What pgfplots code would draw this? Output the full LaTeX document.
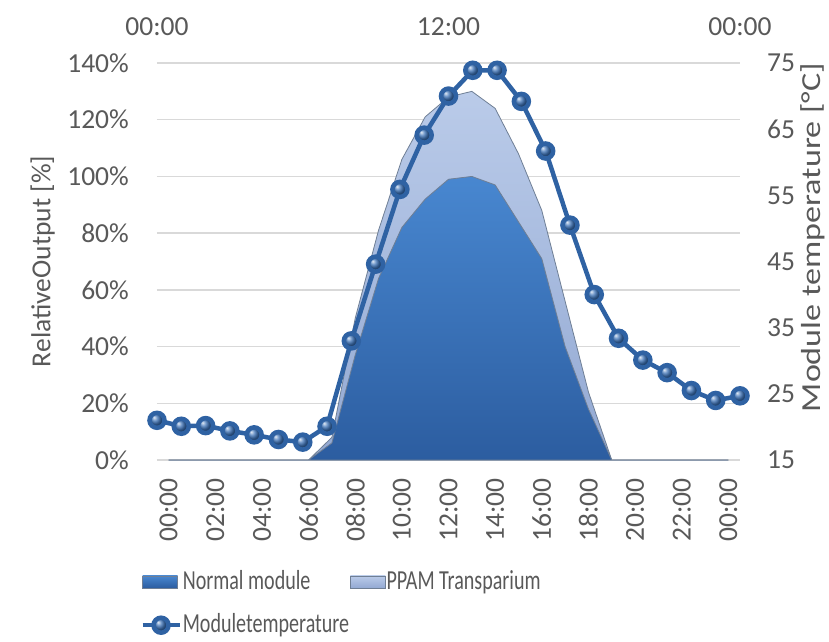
\documentclass[border=0pt]{standalone}
\usepackage{pgfplots}
\usepackage{pgfplotstable}
\pgfplotsset{compat=1.18}
\usepackage{fontspec}
\setmainfont{Carlito}
\definecolor{txt}{HTML}{595959}
\definecolor{gridc}{HTML}{D9D9D9}
\definecolor{nmtop}{HTML}{4887D0}
\definecolor{nmbot}{HTML}{2C5DA0}
\definecolor{pptop}{HTML}{BACBE9}
\definecolor{ppbot}{HTML}{93A9D3}
\definecolor{tline}{HTML}{2F62A3}
\definecolor{tball}{HTML}{3A70B5}
\definecolor{edge}{HTML}{6F7F95}

\pgfplotstableread{
h normal ppam
0 0 0
1 0 0
2 0 0
3 0 0
4 0 0
5 0 0
6 0 0
7 6 8
8 37 50
9 64 81
10 82 106
11 92 121
12 99 128
13 100 130
14 97 124
15 84 108
16 71 88
17 40 56
18 18 24
19 0 0
20 0 0
21 0 0
22 0 0
23 0 0
24 0 0
}\areadata

\pgfplotstableread{
h temp
0 21.0
1 20.1
2 20.2
3 19.4
4 18.8
5 18.1
6 17.7
7 20.1
8 33.0
9 44.6
10 55.9
11 64.1
12 70.0
13 73.9
14 73.9
15 69.2
16 61.7
17 50.5
18 40.0
19 33.4
20 30.1
21 28.2
22 25.5
23 24.0
24 24.7
}\tempdata

\pgfplotsset{
  tleg/.style={legend image code/.code={\draw[##1,mark repeat=2,mark phase=2] plot coordinates {(0bp,0bp) (18.5bp,0bp) (37bp,0bp)};}},
  common/.style={scale only axis, width=583bp, height=397bp,
    axis line style={draw=none}, major tick length=0pt,
    tick label style={text=txt, inner sep=0pt},
    label style={text=txt},
    /pgf/number format/assume math mode=true},
}

\begin{document}
\fontsize{27.5bp}{33bp}\selectfont
\begin{tikzpicture}
\begin{axis}[common,
  xmin=-0.5, xmax=24.5, ymin=0, ymax=140,
  xtick={0,2,...,24},
  xticklabels={00:00,02:00,04:00,06:00,08:00,10:00,12:00,14:00,16:00,18:00,20:00,22:00,00:00},
  xticklabel style={yshift=-18bp, rotate=90, anchor=east},
  ytick={0,20,...,140},
  yticklabel={\pgfmathprintnumber{\tick}\%},
  yticklabel style={anchor=east, xshift=-28bp},
  ymajorgrids, grid style={gridc, line width=1.4bp},
  ylabel={RelativeOutput [\%]},
  ylabel style={at={(axis description cs:-0.196,0.5)}, anchor=center},
]
\addplot[draw=edge, line width=0.8bp, top color=pptop, bottom color=ppbot] table[x=h,y=ppam]{\areadata} \closedcycle;
\addplot[draw=edge, line width=0.8bp, top color=nmtop, bottom color=nmbot] table[x=h,y=normal]{\areadata} \closedcycle;
\end{axis}
\begin{axis}[common,
  xmin=0, xmax=24, ymin=15, ymax=75,
  axis x line*=top, axis y line*=right,
  xtick={0,12,24}, xticklabels={00:00,12:00,00:00},
  xticklabel style={anchor=base, yshift=28bp},
  ytick={15,25,...,75},
  yticklabel style={anchor=west, xshift=27bp},
  ylabel={\scalebox{1.24}[1]{Module temperature [°C]}},
  ylabel style={at={(axis description cs:1.125,0.56)}, anchor=center},
  legend style={at={(axis description cs:-0.029,-0.275)}, anchor=north west,
    draw=none, fill=none, inner sep=0pt, row sep=18bp,
    nodes={inner sep=1bp, text=txt}},
  legend columns=2, legend cell align=left,
]
\addlegendimage{legend image code/.code={\draw[draw=edge, top color=nmtop, bottom color=nmbot] (0bp,-6bp) rectangle (35bp,6bp);}}
\addlegendentry{\scalebox{0.73}[1]{Normal module}}
\addlegendimage{legend image code/.code={\draw[draw=edge, top color=pptop, bottom color=ppbot] (0bp,-6bp) rectangle (35bp,6bp);}}
\addlegendentry{\scalebox{0.73}[1]{PPAM Transparium}}
\addplot[tleg, color=tline, line width=4.5bp, mark=ball, mark size=7.5bp, mark options={ball color=tball}] table[x=h,y=temp]{\tempdata};
\addlegendentry{\scalebox{0.73}[1]{Moduletemperature}}
\end{axis}
\pgfresetboundingbox
\useasboundingbox (-157bp,-182bp) rectangle (672bp,460bp);
\end{tikzpicture}
\end{document}
